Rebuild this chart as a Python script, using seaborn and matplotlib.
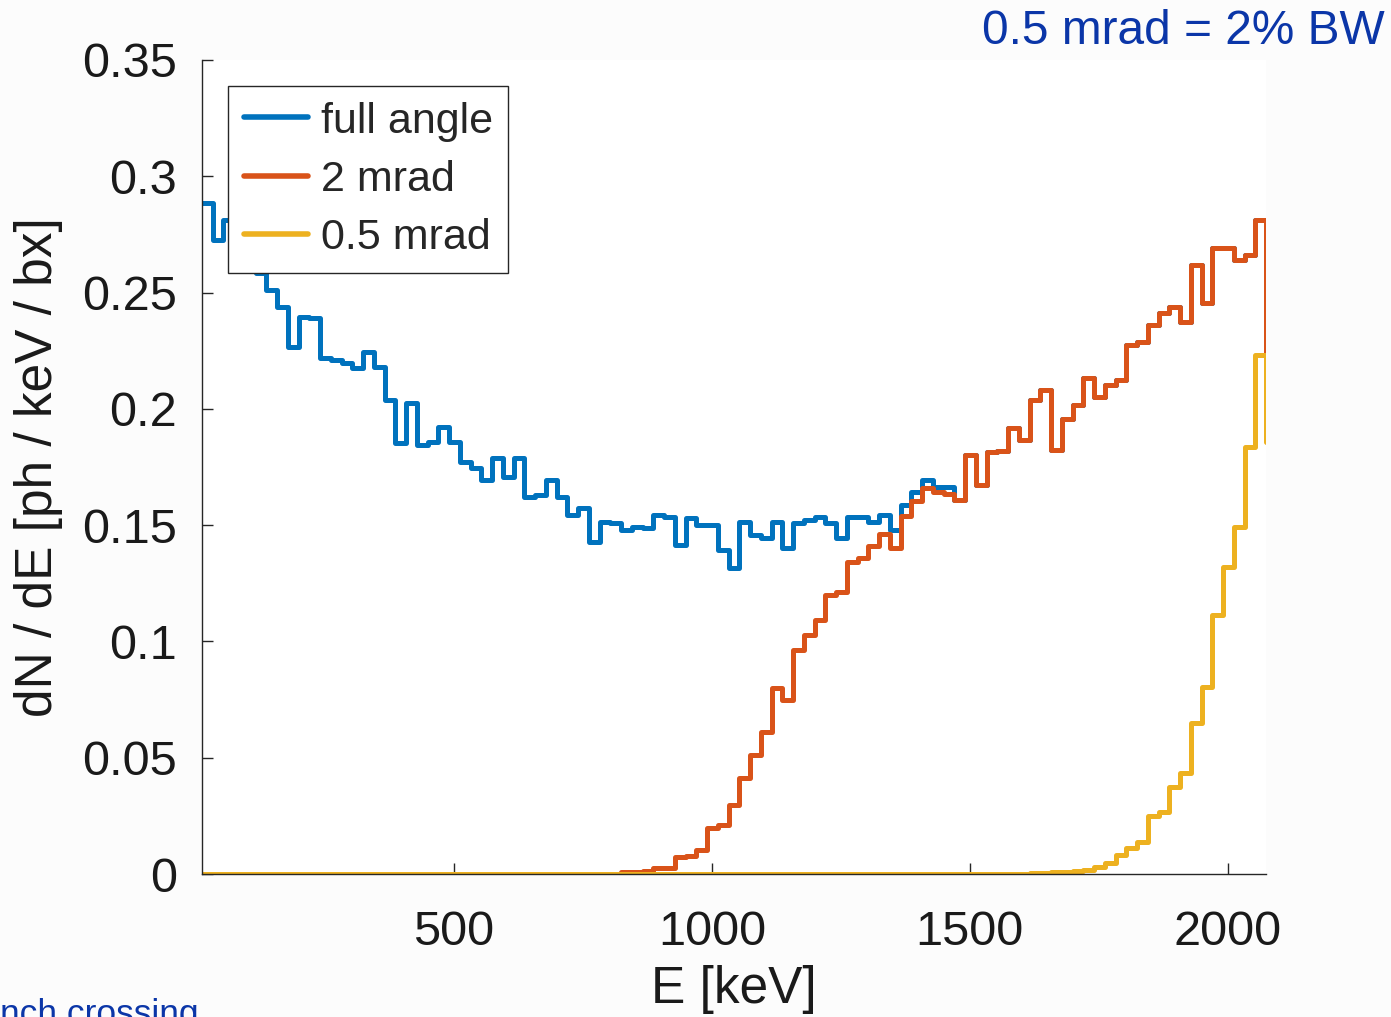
import numpy as np
import pandas as pd
import matplotlib
matplotlib.use("Agg")
import matplotlib.pyplot as plt
import seaborn as sns

# ---------------- data ----------------
# energy grid (keV): first bin edge and bin width of the histogram
E_START = 11.4
E_STEP = 20.84
N_BINS = 100

full_angle = [
    0.2887, 0.2726, 0.2812, 0.2620, 0.2604, 0.2584, 0.2511, 0.2439, 0.2267, 0.2396,
    0.2390, 0.2217, 0.2210, 0.2196, 0.2174, 0.2246, 0.2181, 0.2038, 0.1852, 0.2024,
    0.1845, 0.1859, 0.1923, 0.1859, 0.1773, 0.1744, 0.1694, 0.1787, 0.1708, 0.1787,
    0.1622, 0.1630, 0.1694, 0.1622, 0.1544, 0.1572, 0.1429, 0.1515, 0.1508, 0.1479,
    0.1493, 0.1488, 0.1544, 0.1536, 0.1415, 0.1529, 0.1501, 0.1501, 0.1393, 0.1314,
    0.1515, 0.1458, 0.1443, 0.1515, 0.1400, 0.1508, 0.1522, 0.1536, 0.1508, 0.1443,
    0.1535, 0.1536, 0.1515, 0.1544, 0.1480, 0.1585, 0.1644, 0.1694, 0.1665, 0.1665,
    0.1608, 0.1802, 0.1673, 0.1816, 0.1820, 0.1916, 0.1866, 0.2038, 0.2081, 0.1823,
    0.1956, 0.2017, 0.2131, 0.2052, 0.2103, 0.2124, 0.2275, 0.2289, 0.2361, 0.2411,
    0.2439, 0.2375, 0.2619, 0.2454, 0.2690, 0.2690, 0.2640, 0.2662, 0.2812, 0.2232,
]

mrad_2 = [
    0.0, 0.0, 0.0, 0.0, 0.0, 0.0, 0.0, 0.0, 0.0, 0.0,
    0.0, 0.0, 0.0, 0.0, 0.0, 0.0, 0.0, 0.0, 0.0, 0.0,
    0.0, 0.0, 0.0, 0.0, 0.0, 0.0, 0.0, 0.0, 0.0, 0.0,
    0.0, 0.0, 0.0, 0.0, 0.0, 0.0, 0.0, 0.0, 0.0002, 0.0008,
    0.0010, 0.0012, 0.0024, 0.0026, 0.0074, 0.0076, 0.0103, 0.0196, 0.0211, 0.0297,
    0.0411, 0.0512, 0.0612, 0.0798, 0.0748, 0.0963, 0.1028, 0.1092, 0.1200, 0.1214,
    0.1343, 0.1360, 0.1410, 0.1460, 0.1400, 0.1540, 0.1604, 0.1658, 0.1644, 0.1635,
    0.1608, 0.1802, 0.1673, 0.1816, 0.1820, 0.1916, 0.1866, 0.2038, 0.2081, 0.1823,
    0.1956, 0.2017, 0.2131, 0.2052, 0.2103, 0.2124, 0.2275, 0.2289, 0.2361, 0.2411,
    0.2439, 0.2375, 0.2619, 0.2454, 0.2690, 0.2690, 0.2640, 0.2662, 0.2812, 0.2232,
]

mrad_05 = [
    0.0, 0.0, 0.0, 0.0, 0.0, 0.0, 0.0, 0.0, 0.0, 0.0,
    0.0, 0.0, 0.0, 0.0, 0.0, 0.0, 0.0, 0.0, 0.0, 0.0,
    0.0, 0.0, 0.0, 0.0, 0.0, 0.0, 0.0, 0.0, 0.0, 0.0,
    0.0, 0.0, 0.0, 0.0, 0.0, 0.0, 0.0, 0.0, 0.0, 0.0,
    0.0, 0.0, 0.0, 0.0, 0.0, 0.0, 0.0, 0.0, 0.0, 0.0,
    0.0, 0.0, 0.0, 0.0, 0.0, 0.0, 0.0, 0.0, 0.0, 0.0,
    0.0, 0.0, 0.0, 0.0, 0.0, 0.0, 0.0, 0.0, 0.0, 0.0,
    0.0, 0.0, 0.0, 0.0, 0.0, 0.0001, 0.0002, 0.0003, 0.0005, 0.0007,
    0.0010, 0.0014, 0.0018, 0.0031, 0.0046, 0.0082, 0.0110, 0.0139, 0.0250, 0.0265,
    0.0375, 0.0433, 0.0648, 0.0805, 0.1114, 0.1321, 0.1493, 0.1837, 0.2232, 0.1859,
]

series_labels = ["full angle", "2 mrad", "0.5 mrad"]
series_colors = ["#0072BD", "#D95319", "#EDB120"]
y_ticks = [0, 0.05, 0.1, 0.15, 0.2, 0.25, 0.3, 0.35]
y_ticklabels = ["0", "0.05", "0.1", "0.15", "0.2", "0.25", "0.3", "0.35"]
x_ticks = [500, 1000, 1500, 2000]
x_ticklabels = ["500", "1000", "1500", "2000"]

energy = E_START + E_STEP * np.arange(N_BINS)

df = pd.DataFrame({
    "E": np.concatenate([energy] * 3),
    "val": np.concatenate([full_angle, mrad_2, mrad_05]),
    "series": np.repeat(series_labels, N_BINS),
})

# ---------------- style ----------------
sns.set_theme(style="white")
plt.rcParams["font.family"] = ["Liberation Sans", "DejaVu Sans"]
FS_TICK = 35
FS_LEG = 31
FS_LAB = 37

W, H = 1391, 1017
fig = plt.figure(figsize=(W / 100, H / 100), dpi=100, facecolor="#fcfcfc")
ax = fig.add_axes([202 / W, 1 - 874 / H, (1266 - 202) / W, (874 - 60) / H])
ax.set_facecolor("white")

for lab, col in zip(series_labels, series_colors):
    sub = df[df["series"] == lab]
    sns.lineplot(data=sub, x="E", y="val", ax=ax, color=col, lw=3.6,
                 drawstyle="steps-post", estimator=None, sort=False,
                 label=lab, legend=False)

ax.set_xlim(energy[0], energy[-1])
ax.set_ylim(0, 0.35)
ax.set_yticks(y_ticks)
ax.set_yticklabels(y_ticklabels)
ax.set_xticks(x_ticks)
ax.set_xticklabels(x_ticklabels)

for s in ["top", "right"]:
    ax.spines[s].set_visible(False)
for s in ["left", "bottom"]:
    ax.spines[s].set_color("#262626")
    ax.spines[s].set_linewidth(1.0)

ax.tick_params(axis="both", direction="in", length=8, width=1.0,
               color="#262626", labelsize=FS_TICK, labelcolor="#1a1a1a")
ax.tick_params(axis="y", pad=18, left=True)
ax.tick_params(axis="x", pad=26, bottom=True)

ax.set_xlabel("E [keV]", fontsize=FS_LAB, color="#1a1a1a", labelpad=7)
ax.set_ylabel("dN / dE [ph / keV / bx]", fontsize=FS_LAB, color="#1a1a1a", labelpad=14)

leg = ax.legend(loc="upper left", bbox_to_anchor=(228 / W, 1 - 86 / H),
                bbox_transform=fig.transFigure, borderaxespad=0,
                fontsize=FS_LEG, frameon=True, fancybox=False, framealpha=1,
                edgecolor="#262626", handlelength=1.5, handletextpad=0.29,
                labelspacing=0.42, borderpad=0.36)
leg.get_frame().set_linewidth(1.0)
for line in leg.get_lines():
    line.set_linewidth(4)

fig.text(1385 / W, 1 - 31 / H, "0.5 mrad = 2% BW", ha="right", va="center",
         fontsize=34.5, color="#0B36A8")
fig.text(0, 1 - 998 / H, "nch crossing", ha="left", va="top",
         fontsize=25.5, color="#0B36A8")

fig.savefig("out.png", dpi=100, facecolor=fig.get_facecolor())
